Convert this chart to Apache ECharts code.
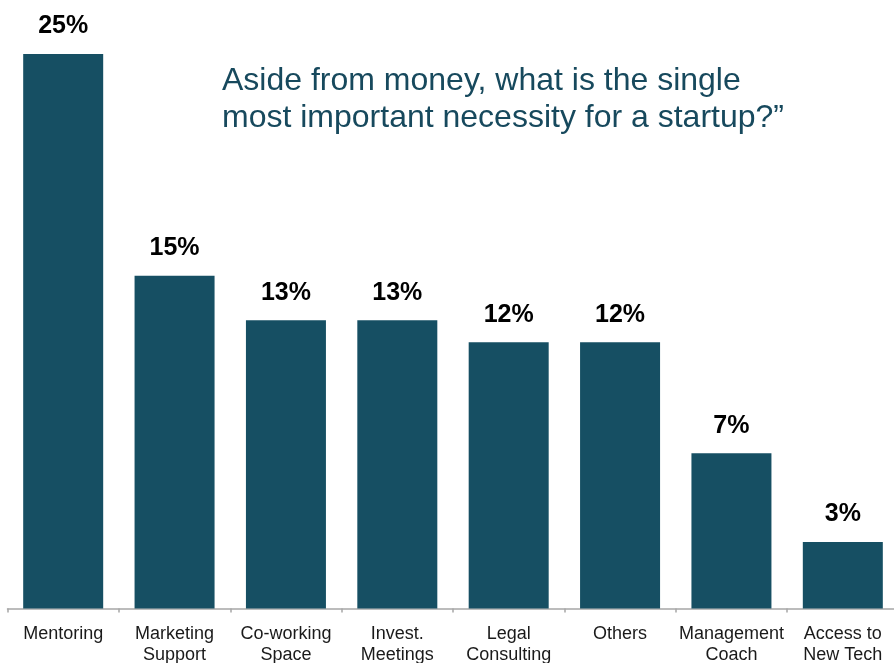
<!DOCTYPE html>
<html>
<head>
<meta charset="utf-8">
<script src="https://cdn.jsdelivr.net/npm/echarts@6/dist/echarts.min.js"></script>
<style>
  html, body { margin: 0; padding: 0; background: #ffffff; }
  #chart { width: 894px; height: 663px; }
</style>
</head>
<body>
<div id="chart"></div>
<script>
// Survey answers: share of respondents per necessity (%)
const categories = [
  'Mentoring',
  'Marketing\nSupport',
  'Co-working\nSpace',
  'Invest.\nMeetings',
  'Legal\nConsulting',
  'Others',
  'Management\nCoach',
  'Access to\nNew Tech'
];
const shares = [25, 15, 13, 13, 12, 12, 7, 3];
const titleLines = [
  'Aside from money, what is the single',
  'most important necessity for a startup?\u201D'
];

const FONT = '"Liberation Sans", Arial, Helvetica, sans-serif';
const BAR = '#164f63';

const chart = echarts.init(document.getElementById('chart'));
chart.setOption({
  animation: false,
  backgroundColor: '#ffffff',
  title: {
    text: titleLines.join('\n'),
    left: 222,
    top: 63,
    padding: 0,
    textStyle: {
      fontFamily: FONT,
      fontSize: 32,
      fontWeight: 'normal',
      color: '#17495d',
      lineHeight: 37
    }
  },
  grid: {
    left: 7.5,
    width: 891,
    top: 54,
    bottom: 54.5,
    containLabel: false,
    outerBoundsMode: 'none'
  },
  xAxis: {
    type: 'category',
    data: categories,
    boundaryGap: true,
    axisLine: { show: true, lineStyle: { color: '#a6a6a6', width: 1.5 } },
    axisTick: { show: true, length: 4, lineStyle: { color: '#a6a6a6', width: 1.5 } },
    axisLabel: {
      interval: 0,
      margin: 15,
      fontFamily: FONT,
      fontSize: 18,
      lineHeight: 21,
      color: '#1a1a1a'
    }
  },
  yAxis: {
    type: 'value',
    min: 0,
    max: 25,
    show: false,
    splitLine: { show: false }
  },
  series: [{
    type: 'bar',
    data: shares,
    barWidth: 80,
    itemStyle: { color: BAR },
    label: {
      show: true,
      position: 'top',
      distance: 15,
      formatter: '{c}%',
      fontFamily: FONT,
      fontSize: 25,
      fontWeight: 'bold',
      color: '#000000'
    }
  }]
});
</script>
</body>
</html>
